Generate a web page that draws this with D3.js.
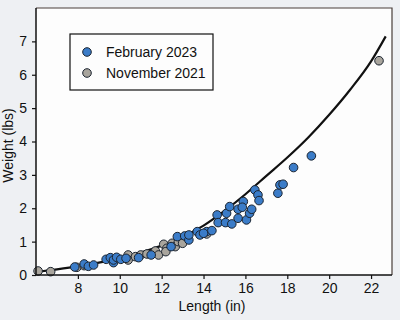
<!DOCTYPE html>
<html><head><meta charset="utf-8">
<script src="https://cdn.jsdelivr.net/npm/d3@7"></script>
<style>
html,body{margin:0;padding:0;background:#eef0f3;}
svg{display:block;font-family:"Liberation Sans",Arial,sans-serif;}
</style></head>
<body><svg id="c" width="400" height="320"></svg>
<script>
// Data
const febLength = [7.85,8.3,8.5,8.75,9.35,9.55,9.7,9.7,9.85,10.05,10.3,10.9,11.5,12.45,12.75,13.1,13.3,13.3,13.7,13.83,14.15,14.4,14.0,14.65,14.7,15.05,15.1,15.25,15.35,15.65,15.65,15.9,15.85,16.05,16.2,16.3,16.45,16.6,16.65,17.55,17.65,17.8,18.3,19.15];
const febWeight = [0.24,0.33,0.26,0.3,0.47,0.52,0.37,0.45,0.53,0.47,0.5,0.52,0.6,0.85,1.15,1.17,1.05,1.2,1.3,1.2,1.3,1.33,1.25,1.8,1.57,1.57,1.85,2.05,1.53,1.7,1.97,2.2,2.03,1.65,1.85,1.97,2.55,2.4,2.23,2.45,2.7,2.72,3.22,3.57];
const novLength = [6.1,6.7,7.95,8.3,10.4,10.4,10.75,11.0,11.3,11.7,11.85,12.1,12.25,12.2,12.5,12.65,12.8,13.0,14.15,22.38];
const novWeight = [0.12,0.1,0.23,0.28,0.6,0.45,0.55,0.6,0.63,0.72,0.6,0.92,0.8,0.7,0.95,0.85,1.0,0.95,1.23,6.42];
const fitLength = [6.0,7.0,8.0,9.0,10.0,11.0,12.0,13.0,14.0,15.0,16.0,17.0,18.0,19.0,20.0,21.0,22.0,22.7];
const fitWeight = [0.09,0.17,0.26,0.37,0.5,0.67,0.88,1.14,1.48,1.92,2.42,2.97,3.52,4.12,4.8,5.55,6.4,7.15];
const xTicks = [8,10,12,14,16,18,20,22];
const yTicks = [0,1,2,3,4,5,6,7];
const seriesNames = ["February 2023","November 2021"];
const seriesColors = ["#3b7cc8","#a9a59d"];

const svg = d3.select("#c");
const L=36, R=392, T=8, B=275;
const FS = 14;
const x = d3.scaleLinear().domain([6,23]).range([L,R]);
const y = d3.scaleLinear().domain([0,8]).range([B,T]);

svg.append("rect").attr("x",L).attr("y",T).attr("width",R-L).attr("height",B-T)
  .attr("fill","#fdfdfd").attr("stroke","none");

// fit line
const line = d3.line().x(d=>x(d[0])).y(d=>y(d[1])).curve(d3.curveMonotoneX);
svg.append("path").datum(fitLength.map((l,i)=>[l,fitWeight[i]]))
  .attr("d",line).attr("fill","none").attr("stroke","#111").attr("stroke-width",2.2);

function dots(ls, ws, color){
  svg.append("g").selectAll("circle").data(ls.map((l,i)=>[l,ws[i]])).join("circle")
    .attr("cx",d=>x(d[0])).attr("cy",d=>y(d[1])).attr("r",4.3)
    .attr("fill",color).attr("stroke","#1b2430").attr("stroke-width",1);
}
dots(novLength, novWeight, seriesColors[1]);
dots(febLength, febWeight, seriesColors[0]);

// frame top/right
svg.append("path").attr("d",`M${L},${T}H${R}V${B}`).attr("fill","none")
  .attr("stroke","#4a3f3a").attr("stroke-width",1.2);

// axes
const xAxis = d3.axisBottom(x).tickValues(xTicks).tickSize(4).tickPadding(4).tickFormat(d3.format("d"));
const gx = svg.append("g").attr("transform",`translate(0,${B})`).call(xAxis);
gx.select(".domain").attr("d",`M${L},0H${R}`).attr("stroke","#111").attr("stroke-width",1.5);
const yAxis = d3.axisLeft(y).tickValues(yTicks).tickSize(4).tickPadding(5).tickFormat(d3.format("d"));
const gy = svg.append("g").attr("transform",`translate(${L},0)`).call(yAxis);
gy.select(".domain").attr("d",`M0,${B}V${T}`).attr("stroke","#111").attr("stroke-width",1.5);
[gx,gy].forEach(g=>{
  g.selectAll("text").attr("font-size",FS).attr("fill","#111").attr("font-family","Liberation Sans, Arial, sans-serif");
  g.selectAll(".tick line").attr("stroke","#111").attr("stroke-width",1.2);
});

svg.append("text").attr("x",212).attr("y",311).attr("text-anchor","middle")
  .attr("font-size",FS).attr("fill","#111").text("Length (in)");
svg.append("text").attr("transform",`translate(13,${(T+B)/2+4}) rotate(-90)`).attr("text-anchor","middle")
  .attr("font-size",FS).attr("fill","#111").text("Weight (lbs)");

// legend
const lg = svg.append("g");
lg.append("rect").attr("x",70).attr("y",34).attr("width",143).attr("height",56)
  .attr("fill","#fdfdfd").attr("stroke","#111").attr("stroke-width",1.2);
seriesNames.forEach((n,i)=>{
  lg.append("circle").attr("cx",87).attr("cy",52+i*21).attr("r",4.3)
    .attr("fill",seriesColors[i]).attr("stroke","#1b2430").attr("stroke-width",1);
  lg.append("text").attr("x",106).attr("y",52+i*21+5).attr("font-size",FS).attr("fill","#111").text(n);
});
</script></body></html>
